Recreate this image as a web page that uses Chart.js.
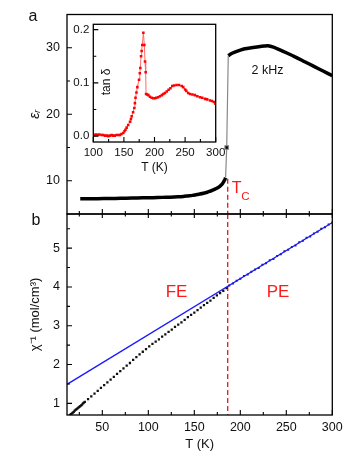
<!DOCTYPE html>
<html><head><meta charset="utf-8">
<script src="https://cdn.jsdelivr.net/npm/chart.js@4"></script>
<style>
html,body{margin:0;padding:0;background:#fff;}
#wrap{position:relative;width:359px;height:458px;overflow:hidden;}
canvas{position:absolute;left:0;top:0;}
</style></head><body>
<div id="wrap">
<canvas id="top" width="359" height="458"></canvas>
<canvas id="bot" width="359" height="458"></canvas>
<canvas id="ins" width="230" height="180"></canvas>
</div>
<script>
// ---------- data ----------
const epsLowT = [26, 35, 45, 58, 70, 82, 94, 105, 115, 124, 132, 138, 143, 148, 152, 156, 160, 164, 167, 170, 173, 176, 178, 180, 181.5, 183, 184];
const epsLow  = [7.29, 7.3, 7.31, 7.33, 7.36, 7.39, 7.43, 7.46, 7.5, 7.53, 7.58, 7.64, 7.72, 7.8, 7.9, 8.0, 8.12, 8.27, 8.42, 8.58, 8.78, 9.0, 9.2, 9.45, 9.75, 10.1, 10.45];
const epsJumpT = [184, 185.2, 186.9];
const epsJump  = [10.45, 15.0, 28.8];
const epsHighT = [186.9, 190, 194, 200, 205, 212, 220, 226, 230, 236, 241, 250, 260, 270, 280, 290, 300];
const epsHigh  = [28.8, 29.1, 29.35, 29.65, 29.85, 30.0, 30.15, 30.25, 30.3, 30.1, 29.8, 29.25, 28.6, 27.9, 27.2, 26.5, 25.8];

const tanT = [100, 102.7, 105, 108, 110, 113.6, 116, 119, 122, 124.5, 127, 130, 132, 135, 138, 141, 143.6, 146, 149, 151, 152.5, 154.5, 157, 160, 161.5, 162.7, 165, 167, 168, 169, 170.5, 172, 174.7, 176, 176.8, 178, 179, 180, 181.8, 183.4, 184.5, 185.6, 186.2, 188, 190, 192.5, 195.4, 198, 200.8, 203, 206, 209, 212, 214.5, 217, 220, 223, 226, 229, 232, 236, 240, 244.5, 247, 250, 252, 255, 258, 262, 266, 270, 274.4, 278, 282.6, 286, 290.8, 294, 297, 299.5];
const tanD = [0.003, 0.002, 0.003, 0.002, 0.003, 0.002, 0.002, 0.001, 0.001, 0.0, 0.001, 0.002, 0.001, 0.001, 0.002, 0.002, 0.002, 0.004, 0.006, 0.009, 0.012, 0.016, 0.021, 0.027, 0.032, 0.0375, 0.045, 0.053, 0.062, 0.072, 0.082, 0.092, 0.106, 0.118, 0.128, 0.15, 0.16, 0.171, 0.194, 0.171, 0.14, 0.12, 0.079, 0.078, 0.077, 0.074, 0.072, 0.071, 0.071, 0.072, 0.073, 0.075, 0.077, 0.079, 0.081, 0.084, 0.087, 0.09, 0.094, 0.095, 0.096, 0.096, 0.094, 0.092, 0.0875, 0.085, 0.081, 0.079, 0.078, 0.077, 0.075, 0.073, 0.072, 0.07, 0.069, 0.067, 0.066, 0.064, 0.061];

const chiFeT = [15, 16, 17, 18, 19, 20, 21, 22, 23, 24, 25, 26, 27, 28, 29, 30, 31, 34.5, 38, 41.5, 45, 48.5, 52, 55.5, 59, 62.5, 66, 69.5, 73, 76.5, 80, 83.5, 87, 90.5, 94, 97.5, 101, 104.5, 108, 111.5, 115, 118.5, 122, 125.5, 129, 132.5, 136, 139.5, 143, 146.5, 150, 153.5, 157, 160.5, 164, 167.5, 171, 174.5, 178, 181.5, 185];
const chiFe  = [0.70, 0.72, 0.74, 0.76, 0.78, 0.81, 0.83, 0.85, 0.87, 0.89, 0.91, 0.93, 0.95, 0.97, 1.00, 1.02, 1.04, 1.11, 1.18, 1.25, 1.32, 1.40, 1.47, 1.54, 1.61, 1.68, 1.76, 1.83, 1.90, 1.97, 2.04, 2.12, 2.19, 2.26, 2.33, 2.40, 2.47, 2.53, 2.59, 2.65, 2.72, 2.78, 2.84, 2.90, 2.97, 3.03, 3.09, 3.15, 3.22, 3.28, 3.34, 3.40, 3.47, 3.53, 3.59, 3.65, 3.72, 3.78, 3.84, 3.90, 3.97];
const chiPeT = [188, 192, 196, 200, 204, 208, 212, 216, 220, 224, 228, 232, 236, 240, 244, 248, 252, 256, 260, 264, 268, 272, 276, 280, 284, 288, 292, 296, 300];
const chiPe  = [4.04, 4.09, 4.16, 4.21, 4.28, 4.32, 4.39, 4.45, 4.49, 4.57, 4.61, 4.69, 4.72, 4.80, 4.84, 4.92, 4.96, 5.03, 5.07, 5.15, 5.19, 5.27, 5.30, 5.38, 5.42, 5.50, 5.54, 5.61, 5.66];
const fitT   = [11.6, 300];
const fitChi = [1.49, 5.66];
const Tc = 186.3;

const xTicks = [50, 100, 150, 200, 250, 300];
const xMinor = [25, 75, 125, 175, 225, 275];
const epsTicks = [10, 20, 30];
const epsMinor = [15, 25];
const chiTicks = [1, 2, 3, 4, 5];
const chiMinor = [1.5, 2.5, 3.5, 4.5, 5.5];
const insXTicks = [100, 150, 200, 250, 300];
const insXMinor = [125, 175, 225, 275];
const insYTicks = [0, 0.1, 0.2];
const insYMinor = [0.05, 0.15];

// ---------- helpers ----------
const FONT = "'Liberation Sans', Arial, sans-serif";
const pts = (xs, ys) => xs.map((x, i) => ({x: x, y: ys[i]}));
Chart.defaults.font.family = FONT;
Chart.defaults.color = '#111';

function framePlugin(o) {
  return {
    id: 'frame' + o.name,
    beforeDraw(chart) {
      if (o.fill) {
        const a = chart.chartArea, c = chart.ctx;
        c.save(); c.fillStyle = '#fff'; c.fillRect(a.left, a.top, a.right - a.left, a.bottom - a.top); c.restore();
      }
    },
    beforeDatasetsDraw(chart) {
      if (o.dash) o.dash(chart);
    },
    afterDatasetsDraw(chart) {
      const a = chart.chartArea, c = chart.ctx, xs = chart.scales.x, ys = chart.scales.y;
      c.save();
      c.strokeStyle = '#000'; c.lineWidth = 1.3;
      c.strokeRect(a.left, a.top, a.right - a.left, a.bottom - a.top);
      c.lineWidth = 1.1;
      c.beginPath();
      const xt = (vals, len) => vals.forEach(v => {
        const p = xs.getPixelForValue(v);
        c.moveTo(p, a.bottom); c.lineTo(p, a.bottom - len);
        if (o.topTicks) { c.moveTo(p, a.top); c.lineTo(p, a.top + len * 0.8); }
      });
      const yt = (vals, len) => vals.forEach(v => {
        const p = ys.getPixelForValue(v);
        c.moveTo(a.left, p); c.lineTo(a.left + len, p);
      });
      xt(o.xMajor, 5); xt(o.xMinor, 3);
      yt(o.yMajor, 5); yt(o.yMinor, 3);
      c.stroke();
      if (o.extra) o.extra(chart, c);
      c.restore();
    }
  };
}
function txt(c, s, x, y, size, color, opts) {
  c.save();
  c.font = (opts && opts.style ? opts.style + ' ' : '') + size + 'px ' + FONT;
  c.fillStyle = color; c.textAlign = 'center'; c.textBaseline = 'middle';
  if (opts && opts.rot) { c.translate(x, y); c.rotate(opts.rot); c.fillText(s, 0, 0); }
  else c.fillText(s, x, y);
  c.restore();
}
function dashTc(chart, fromVal) {
  const a = chart.chartArea, c = chart.ctx;
  const px = chart.scales.x.getPixelForValue(Tc);
  const y0 = fromVal == null ? a.top : chart.scales.y.getPixelForValue(fromVal);
  c.save(); c.strokeStyle = '#e8141c'; c.lineWidth = 1.3; c.setLineDash([5, 3]);
  c.beginPath(); c.moveTo(px, y0); c.lineTo(px, a.bottom); c.stroke(); c.restore();
}

const tickFont = {size: 12.5, family: FONT};

// ---------- top panel ----------
new Chart(document.getElementById('top'), {
  type: 'scatter',
  data: { datasets: [
    { data: pts(epsJumpT, epsJump), showLine: true, borderColor: '#888', borderWidth: 1.2,
      pointStyle: 'rect', pointRadius: [0, 2.5, 0], backgroundColor: '#000', borderJoinStyle: 'round' },
    { data: pts(epsLowT, epsLow), showLine: true, borderColor: '#000', borderWidth: 3.5, pointRadius: 0, tension: 0.3 },
    { data: pts(epsHighT, epsHigh), showLine: true, borderColor: '#000', borderWidth: 3.5, pointRadius: 0, tension: 0.3 }
  ]},
  options: {
    responsive: false, animation: false, events: [],
    layout: { padding: { left: 0, right: 26.7, top: 12, bottom: 0 } },
    plugins: { legend: { display: false }, tooltip: { enabled: false } },
    scales: {
      x: { type: 'linear', min: 11.6, max: 300, ticks: { display: false }, grid: { display: false, drawTicks: false }, border: { display: false },
           afterFit(s) { s.height = 458 - 214; } },
      y: { type: 'linear', min: 5, max: 35, grid: { display: false, drawTicks: false }, border: { display: false },
           afterBuildTicks(s) { s.ticks = epsTicks.map(v => ({ value: v })); },
           ticks: { font: tickFont, color: '#111', padding: 7, callback: v => v },
           title: { display: true, text: 'εᵣ', font: { size: 14, style: 'italic', family: FONT }, color: '#111', padding: { top: 27 } },
           afterFit(s) { s.width = 67; } }
    }
  },
  plugins: [framePlugin({ name: 'top', xMajor: xTicks, xMinor: xMinor, yMajor: epsTicks, yMinor: epsMinor,
    dash: ch => dashTc(ch, 10.3),
    extra: (ch, c) => {
      txt(c, 'a', 33, 17, 16, '#111');
      txt(c, '2 kHz', 267.5, 70.5, 12.5, '#111');
      txt(c, 'T', 236.7, 189, 16, '#ff1a1a');
      txt(c, 'C', 245.5, 196.5, 11.5, '#ff1a1a');
    } })]
});

// ---------- bottom panel ----------
new Chart(document.getElementById('bot'), {
  type: 'scatter',
  data: { datasets: [
    { data: pts(fitT, fitChi), showLine: true, borderColor: '#1a1aff', borderWidth: 1.3, pointRadius: 0 },
    { data: pts(chiFeT, chiFe), showLine: false, pointStyle: 'rect', pointRadius: 1.6, backgroundColor: '#111', borderWidth: 0 },
    { data: pts(chiPeT, chiPe), showLine: false, pointStyle: 'rect', pointRadius: 1.4, backgroundColor: '#22225a', borderWidth: 0 }
  ]},
  options: {
    responsive: false, animation: false, events: [],
    layout: { padding: { left: 0, right: 26.7, top: 214, bottom: 0 } },
    plugins: { legend: { display: false }, tooltip: { enabled: false } },
    scales: {
      x: { type: 'linear', min: 11.6, max: 300, grid: { display: false, drawTicks: false }, border: { display: false },
           afterBuildTicks(s) { s.ticks = xTicks.map(v => ({ value: v })); },
           ticks: { font: tickFont, color: '#111', padding: 5, maxRotation: 0, callback: v => v },
           title: { display: true, text: 'T (K)', font: { size: 13, family: FONT }, color: '#111', padding: { top: 0, bottom: 6 } },
           afterFit(s) { s.height = 458 - 415; } },
      y: { type: 'linear', min: 0.7, max: 5.88, grid: { display: false, drawTicks: false }, border: { display: false },
           afterBuildTicks(s) { s.ticks = chiTicks.map(v => ({ value: v })); },
           ticks: { font: tickFont, color: '#111', padding: 7, callback: v => v },
           title: { display: true, text: 'χ⁻¹ (mol/cm³)', font: { size: 13, family: FONT }, color: '#111', padding: { top: 28 } },
           afterFit(s) { s.width = 67; } }
    }
  },
  plugins: [framePlugin({ name: 'bot', xMajor: xTicks, xMinor: xMinor, yMajor: chiTicks, yMinor: chiMinor, topTicks: true,
    dash: ch => dashTc(ch, null),
    extra: (ch, c) => {
      txt(c, 'b', 36, 221, 16, '#111');
      txt(c, 'FE', 176.5, 292, 17, '#ff1a1a');
      txt(c, 'PE', 278, 292, 17, '#ff1a1a');
    } })]
});

// ---------- inset ----------
new Chart(document.getElementById('ins'), {
  type: 'scatter',
  data: { datasets: [
    { data: pts(tanT, tanD), showLine: true, borderColor: '#ff6b6b', borderWidth: 1, pointStyle: 'rect', pointRadius: 1.8,
      backgroundColor: '#ff0000', pointBorderWidth: 0 }
  ]},
  options: {
    responsive: false, animation: false, events: [],
    layout: { padding: { left: 0, right: 14.3, top: 24.3, bottom: 0 } },
    plugins: { legend: { display: false }, tooltip: { enabled: false } },
    scales: {
      x: { type: 'linear', min: 100, max: 300, grid: { display: false, drawTicks: false }, border: { display: false },
           afterBuildTicks(s) { s.ticks = insXTicks.map(v => ({ value: v })); },
           ticks: { font: { size: 11.5, family: FONT }, color: '#111', padding: 4, maxRotation: 0, callback: v => v },
           title: { display: true, text: 'T (K)', font: { size: 12, family: FONT }, color: '#111', padding: { top: 0, bottom: 4.8 } },
           afterFit(s) { s.height = 180 - 142; } },
      y: { type: 'linear', min: -0.011, max: 0.21, grid: { display: false, drawTicks: false }, border: { display: false },
           afterBuildTicks(s) { s.ticks = insYTicks.map(v => ({ value: v })); },
           ticks: { font: { size: 11.5, family: FONT }, color: '#111', padding: 4, callback: v => Number(v).toFixed(1) },
           afterFit(s) { s.width = 93.3; } }
    }
  },
  plugins: [framePlugin({ name: 'ins', fill: true, xMajor: insXTicks, xMinor: insXMinor, yMajor: insYTicks, yMinor: insYMinor,
    extra: (ch, c) => {
      txt(c, 'tan δ', 107, 82, 12, '#111', { rot: -Math.PI / 2 });
    } })]
});
</script>
</body></html>
